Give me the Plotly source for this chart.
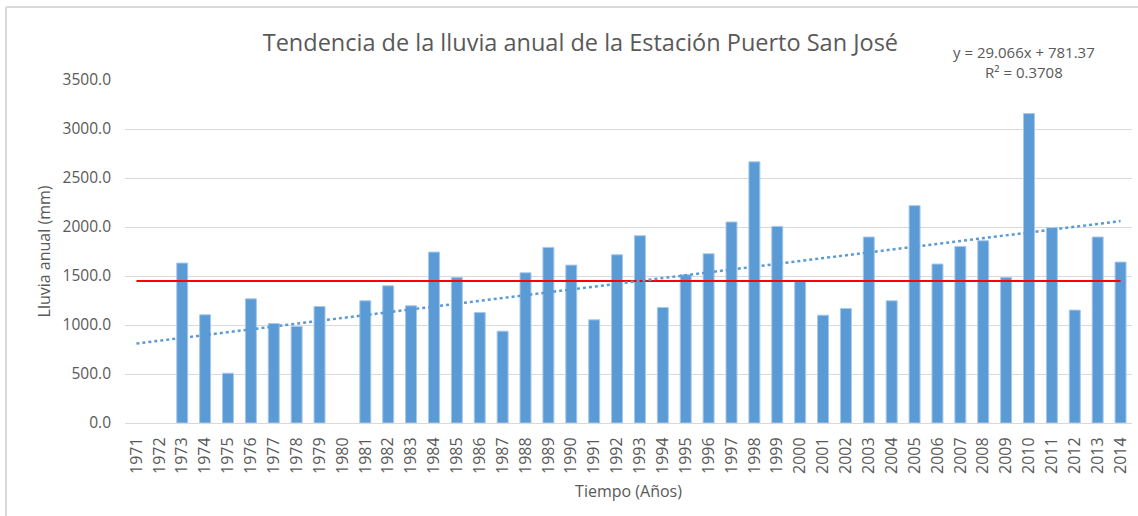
import plotly.graph_objects as go

# Annual rainfall, Estación Puerto San José (mm); None = no record
anios = [str(a) for a in range(1971, 2015)]
lluvia = [
    None, None, 1632, 1104, 508, 1267, 1015, 985, 1189, None,
    1247, 1400, 1196, 1744, 1485, 1128, 937, 1533, 1792, 1611,
    1053, 1717, 1911, 1179, 1513, 1727, 2051, 2665, 2006, 1451,
    1100, 1168, 1898, 1247, 2218, 1622, 1802, 1860, 1485, 3158,
    1993, 1152, 1898, 1642,
]
promedio = 1448.0

# Linear trend: y = 29.066x + 781.37 (x = 1 .. n)
pendiente = 29.066
intercepto = 781.37
r2 = 0.3708
tendencia = [pendiente * (i + 1) + intercepto for i in range(len(anios))]

FONT = "'Open Sans', sans-serif"
GRIS = "#595959"
AZUL = "#5b9bd5"

fig = go.Figure()
fig.add_trace(go.Bar(
    x=anios, y=lluvia,
    marker=dict(color=AZUL, line=dict(color="#a9c8ea", width=1)),
    showlegend=False,
))
fig.add_trace(go.Scatter(
    x=anios, y=[promedio] * len(anios), mode="lines",
    line=dict(color="#ff0000", width=2), showlegend=False,
))
fig.add_trace(go.Scatter(
    x=anios, y=tendencia, mode="lines",
    line=dict(color=AZUL, width=2.5, dash="dot"), showlegend=False,
))

fig.update_layout(
    width=1138, height=516,
    margin=dict(l=125, r=6, t=80, b=93),
    paper_bgcolor="white", plot_bgcolor="white",
    bargap=0.52,
    font=dict(family=FONT, color=GRIS),
    title=dict(
        text="Tendencia de la lluvia anual de la Estación Puerto San José",
        x=0.51, xanchor="center", y=0.918, yanchor="middle",
        font=dict(size=23.5, color=GRIS, family=FONT),
    ),
    xaxis=dict(
        type="category", tickangle=-90, showgrid=False,
        showline=True, linecolor="#d9d9d9", linewidth=1,
        ticks="", ticklabelstandoff=7, tickfont=dict(size=16, color=GRIS),
        title=dict(text="Tiempo (Años)", font=dict(size=16, color=GRIS), standoff=12),
    ),
    yaxis=dict(
        range=[0, 3500], dtick=500, tickformat=".1f",
        showgrid=True, gridcolor="#d9d9d9", gridwidth=1,
        zeroline=False, ticks="", ticklabelstandoff=13,
        tickfont=dict(size=15.5, color=GRIS),
        title=dict(text="Lluvia anual (mm)", font=dict(size=16, color=GRIS), standoff=8),
    ),
    shapes=[
        dict(type="line", xref="paper", yref="paper",
             x0=-119 / 1007, x1=1.01, y0=1 + 73 / 343, y1=1 + 73 / 343,
             line=dict(color="#d9d9d9", width=2)),
        dict(type="line", xref="paper", yref="paper",
             x0=-119 / 1007, x1=-119 / 1007, y0=1 + 73 / 343, y1=-93 / 343,
             line=dict(color="#d9d9d9", width=2)),
    ],
    annotations=[
        dict(text=f"y = {pendiente}x + {intercepto}<br>R² = {r2}",
             xref="paper", yref="paper", x=(1024 - 125) / 1007, y=1 + 18 / 343,
             xanchor="center", yanchor="middle", showarrow=False, align="center",
             font=dict(size=15, color=GRIS, family=FONT)),
    ],
)

fig.write_html("out.html")
